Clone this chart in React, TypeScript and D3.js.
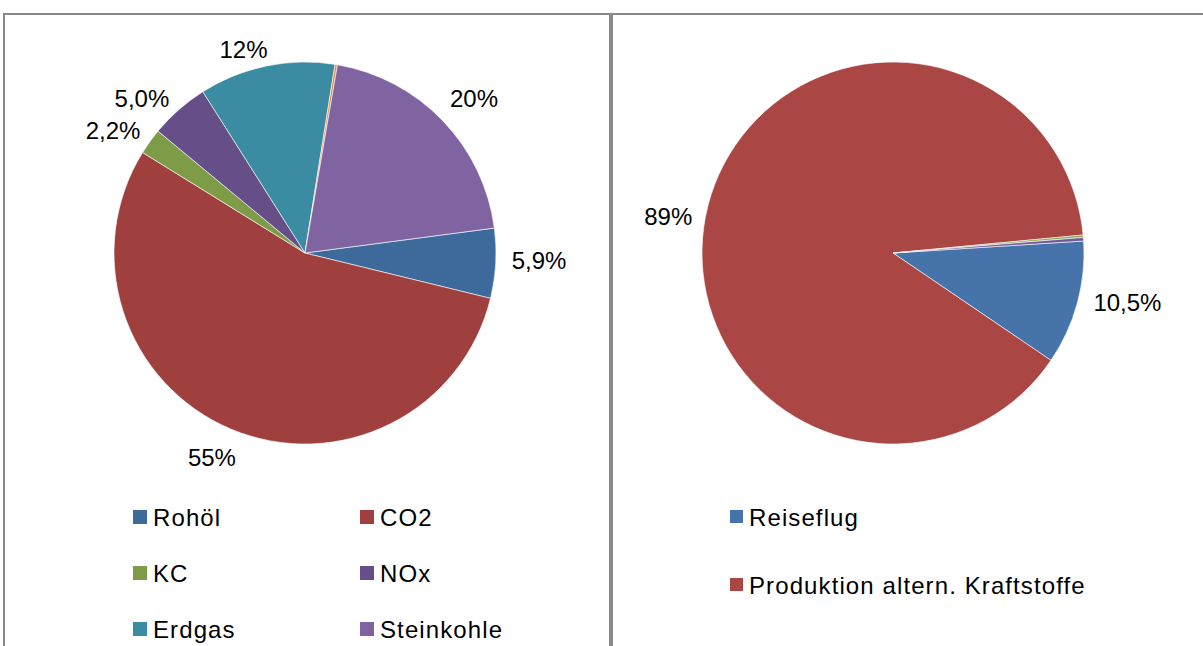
import React from "react";
import * as d3 from "d3";

// ---------- data ----------
const leftCategories = ["Rohöl", "CO2", "KC", "NOx", "Erdgas", "Sonstige", "Steinkohle"];
const leftValues = [5.9, 55.0, 2.2, 5.0, 11.5, 0.2, 20.2];
const leftLabels = ["5,9%", "55%", "2,2%", "5,0%", "12%", "", "20%"];
const leftLegend = ["Rohöl", "CO2", "KC", "NOx", "Erdgas", "Steinkohle"];

const rightCategories = ["Reiseflug", "Produktion altern. Kraftstoffe", "Sonstige A", "Sonstige B"];
const rightValues = [10.5, 89.0, 0.2, 0.3];
const rightLabels = ["10,5%", "89%", "", ""];
const rightLegend = ["Reiseflug", "Produktion altern. Kraftstoffe"];

// ---------- styles ----------
const leftColors: Record<string, string> = {
  "Rohöl": "#3E6A9B",
  CO2: "#A0403E",
  KC: "#7E9B48",
  NOx: "#664E88",
  Erdgas: "#3B8CA3",
  Sonstige: "#F0883C",
  Steinkohle: "#8064A2",
};
const rightColors: Record<string, string> = {
  Reiseflug: "#4674AA",
  "Produktion altern. Kraftstoffe": "#AA4644",
  "Sonstige A": "#89A54E",
  "Sonstige B": "#71589A",
};
// label nudges (px) to mimic Excel's label placement
const leftNudges: [number, number][] = [[-2, -5], [-3, 1.5], [0, 6], [-7, 11], [-14.5, 12], [0, 0], [1, -2.5]];
const rightNudges: [number, number][] = [[0, -8.5], [1, 18.5], [0, 0], [0, 0]];

const FONT = "'Liberation Sans', Arial, sans-serif";
const FS = 24;

function textWidth(t: string, size: number): number {
  try {
    const c = document.createElement("canvas").getContext("2d")!;
    c.font = `${size}px 'Liberation Sans', Arial, sans-serif`;
    return c.measureText(t).width;
  } catch {
    return t.length * size * 0.55;
  }
}

type PieProps = {
  cx: number;
  cy: number;
  r: number;
  cats: string[];
  values: number[];
  labels: string[];
  colors: Record<string, string>;
  startDeg: number;
  nudges: [number, number][];
};

function Pie({ cx, cy, r, cats, values, labels, colors, startDeg, nudges }: PieProps) {
  const start = (startDeg * Math.PI) / 180;
  const pie = d3
    .pie<number>()
    .sort(null)
    .value((d) => d)
    .startAngle(start)
    .endAngle(start + 2 * Math.PI);
  const arcs = pie(values);
  const arc = d3.arc<d3.PieArcDatum<number>>().innerRadius(0).outerRadius(r);
  const gap = 18;
  const h = 22;
  return (
    <g>
      {arcs.map((a, i) => (
        <path
          key={i}
          d={arc(a) || ""}
          transform={`translate(${cx},${cy})`}
          fill={colors[cats[i]]}
          stroke="#ffffff"
          strokeWidth={0.6}
        />
      ))}
      {arcs.map((a, i) => {
        if (!labels[i]) return null;
        const th = (a.startAngle + a.endAngle) / 2;
        const w = textWidth(labels[i], FS);
        const s = Math.sin(th);
        const c = Math.cos(th);
        const x = cx + (r + gap) * s + (w / 2) * s + nudges[i][0];
        const y = cy - (r + gap) * c - (h / 2) * c + nudges[i][1];
        return (
          <text key={"l" + i} x={x} y={y + 8.6} textAnchor="middle" fontSize={FS} fontFamily={FONT} fill="#000">
            {labels[i]}
          </text>
        );
      })}
    </g>
  );
}

type LegendProps = {
  items: string[];
  colors: Record<string, string>;
  x0: number;
  colW: number;
  cols: number;
  y0: number;
  rowH: number;
  box: number;
};

function Legend({ items, colors, x0, colW, cols, y0, rowH, box }: LegendProps) {
  return (
    <g>
      {items.map((name, i) => {
        const col = i % cols;
        const row = Math.floor(i / cols);
        const x = x0 + col * colW;
        const base = y0 + row * rowH;
        return (
          <g key={name}>
            <rect x={x} y={base - 16} width={box} height={box} fill={colors[name]} />
            <text x={x + box + 6} y={base} fontSize={FS} fontFamily={FONT} letterSpacing={1.1} fill="#000">
              {name}
            </text>
          </g>
        );
      })}
    </g>
  );
}

export default function App() {
  const W = 1203;
  const H = 646;
  return (
    <svg
      width={W}
      height={H}
      style={{ position: "absolute", left: 0, top: 0, background: "#fff" }}
      xmlns="http://www.w3.org/2000/svg"
    >
      <rect x={0} y={0} width={W} height={H} fill="#ffffff" />
      <rect x={4} y={14} width={606} height={700} fill="#ffffff" stroke="#898989" strokeWidth={2} />
      <rect x={612} y={14} width={700} height={700} fill="#ffffff" stroke="#898989" strokeWidth={2} />
      <Pie
        cx={305}
        cy={253}
        r={191}
        cats={leftCategories}
        values={leftValues}
        labels={leftLabels}
        colors={leftColors}
        startDeg={82.5}
        nudges={leftNudges}
      />
      <Pie
        cx={893}
        cy={253}
        r={191}
        cats={rightCategories}
        values={rightValues}
        labels={rightLabels}
        colors={rightColors}
        startDeg={86.4}
        nudges={rightNudges}
      />
      <Legend items={leftLegend} colors={leftColors} x0={133} colW={227} cols={2} y0={526} rowH={56} box={14} />
      <Legend items={rightLegend} colors={rightColors} x0={730} colW={300} cols={1} y0={526} rowH={68} box={13} />
    </svg>
  );
}
